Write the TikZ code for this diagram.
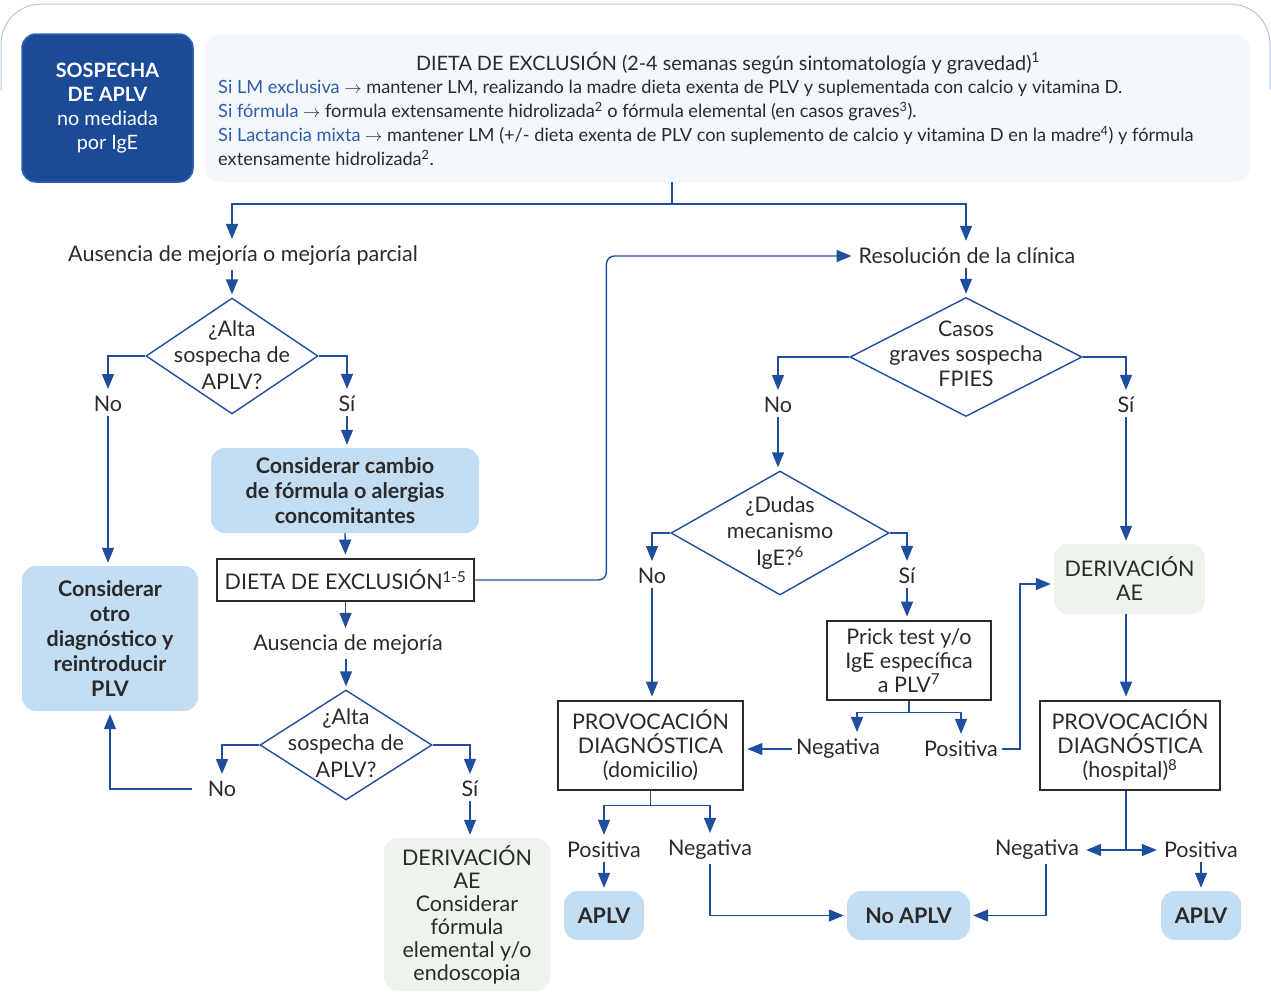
\documentclass[tikz,border=0pt]{standalone}
\usepackage{fontspec}
\setmainfont{Lato}
\usetikzlibrary{arrows.meta,shapes.geometric}
\definecolor{linea}{HTML}{1F4E9E}
\definecolor{azuloscuro}{HTML}{1B4A96}
\definecolor{azulborde}{HTML}{2C62B0}
\definecolor{azulclaro}{HTML}{C3DDF3}
\definecolor{verdeclaro}{HTML}{EEF4EC}
\definecolor{fondo}{HTML}{F4F8FC}
\definecolor{marco}{HTML}{AFC6E6}
\definecolor{texto}{HTML}{2A2A2A}
\definecolor{siazul}{HTML}{2E5DA8}
\tikzset{
  lin/.style={draw=linea, line width=1.4pt},
  arr/.style={lin, -{Triangle[length=15pt,width=12pt]}, shorten >=3pt},
  txt/.style={text=texto, font=\fontsize{21.5}{24}\selectfont, align=center, inner sep=4pt},
  rama/.style={diamond, draw=linea, line width=1.4pt, inner sep=0pt},
  ramatxt/.style={txt, font=\fontsize{21.5}{26.5}\selectfont},
  cajaazul/.style={txt, fill=azulclaro, rounded corners=14pt, font=\bfseries\fontsize{21.5}{25}\selectfont},
  cajaverde/.style={txt, fill=verdeclaro, rounded corners=14pt},
  cajanegra/.style={txt, draw=texto, line width=2.8pt},
}
\begin{document}
\begin{tikzpicture}[x=1pt, y=-1pt]
\useasboundingbox (0,0) rectangle (1271,996);
\draw[marco, line width=1pt, rounded corners=40pt] (1,90) -- (1,4) -- (1270,4) -- (1270,90);

% cabecera
\node[txt, fill=azuloscuro, draw=azulborde, line width=1.5pt, rounded corners=14pt, text=white,
  font=\fontsize{19.8}{24}\selectfont, minimum width=171pt, minimum height=148pt] (sospecha) at (107.5,108)
  {\textbf{SOSPECHA}\\\textbf{DE APLV}\\no mediada\\por IgE};
\node[fill=fondo, rounded corners=14pt, minimum width=1045pt, minimum height=147pt] (dieta) at (727.5,108.5) {};
\node[txt, font=\fontsize{19.8}{24}\selectfont] (dietatit) at (728,63)
  {DIETA DE EXCLUSIÓN (2-4 semanas según sintomatología y gravedad)\textsuperscript{1}};
\node[txt, align=left, anchor=north west, inner sep=0pt, font=\fontsize{18.2}{24}\selectfont] (dietatxt) at (218,80)
  {\textcolor{siazul}{Si LM exclusiva} $\rightarrow$ mantener LM, realizando la madre dieta exenta de PLV y suplementada con calcio y vitamina D.\\
   \textcolor{siazul}{Si fórmula} $\rightarrow$ formula extensamente hidrolizada\textsuperscript{2} o fórmula elemental (en casos graves\textsuperscript{3}).\\
   \textcolor{siazul}{Si Lactancia mixta} $\rightarrow$ mantener LM (+/- dieta exenta de PLV con suplemento de calcio y vitamina D en la madre\textsuperscript{4}) y fórmula\\
   extensamente hidrolizada\textsuperscript{2}.};
\coordinate (bifurca) at (672,204);

% rama izquierda
\node[txt] (ausencia1) at (243,256) {Ausencia de mejoría o mejoría parcial};
\node[rama, minimum width=172pt, minimum height=116pt] (d1) at (232,356) {};
\node[ramatxt] (d1txt) at (232,355) {¿Alta\\sospecha de\\APLV?};
\node[txt] (no1) at (108,404) {No};
\node[txt] (si1) at (347,404) {Sí};
\node[cajaazul, minimum width=176pt, minimum height=145pt] (otro) at (110,638.5)
  {Considerar\\otro\\diagnóstico y\\reintroducir\\PLV};
\node[cajaazul, minimum width=268pt, minimum height=85pt] (cambio) at (345,490.5)
  {Considerar cambio\\de fórmula o alergias\\concomitantes};
\node[cajanegra, minimum width=257pt, minimum height=42pt] (excl1) at (345.5,580)
  {DIETA DE EXCLUSIÓN\textsuperscript{1-5}};
\node[txt] (ausencia2) at (348,645) {Ausencia de mejoría};
\node[rama, minimum width=172pt, minimum height=110pt] (d2) at (346,745) {};
\node[ramatxt] (d2txt) at (346,743) {¿Alta\\sospecha de\\APLV?};
\node[txt] (no2) at (222,789) {No};
\node[txt] (si2) at (470,789) {Sí};
\node[cajaverde, minimum width=166pt, minimum height=153pt, font=\fontsize{21.5}{23}\selectfont] (deriv1) at (467,914.5)
  {DERIVACIÓN\\AE\\Considerar\\fórmula\\elemental y/o\\endoscopia};

% rama derecha
\node[txt] (resol) at (967,256) {Resolución de la clínica};
\node[rama, minimum width=232pt, minimum height=119pt] (d3) at (966,357) {};
\node[ramatxt, font=\fontsize{21.5}{25}\selectfont] (d3txt) at (966,354) {Casos\\graves sospecha\\FPIES};
\node[txt] (no3) at (778,405) {No};
\node[txt] (si3) at (1126,405) {Sí};
\node[rama, minimum width=218pt, minimum height=124pt] (d4) at (780,533) {};
\node[ramatxt] (d4txt) at (780,533) {¿Dudas\\mecanismo\\IgE?\textsuperscript{6}};
\node[txt] (no4) at (652,576) {No};
\node[txt] (si4) at (907,576) {Sí};
\node[cajanegra, minimum width=164pt, minimum height=79pt] (prick) at (909,660.5)
  {Prick test y/o\\IgE específica\\a PLV\textsuperscript{7}};
\node[txt] (neg1) at (838,749) {Negativa};
\node[txt] (pos1) at (961,749) {Positiva};
\node[cajanegra, minimum width=185pt, minimum height=89pt] (domi) at (650.5,745.5)
  {PROVOCACIÓN\\DIAGNÓSTICA\\(domicilio)};
\node[cajaverde, minimum width=151pt, minimum height=70pt] (deriv2) at (1129.5,579) {DERIVACIÓN\\AE};
\node[cajanegra, minimum width=180pt, minimum height=89pt] (hosp) at (1130,745.5)
  {PROVOCACIÓN\\DIAGNÓSTICA\\(hospital)\textsuperscript{8}};
\node[txt] (pos2) at (604,850) {Positiva};
\node[txt] (neg2) at (710,850) {Negativa};
\node[txt] (neg3) at (1037,850) {Negativa};
\node[txt] (pos3) at (1201,850) {Positiva};
\node[cajaazul, minimum width=80pt, minimum height=49pt] (aplv1) at (604,915.5) {APLV};
\node[cajaazul, minimum width=123pt, minimum height=49pt] (noaplv) at (908.5,915.5) {No APLV};
\node[cajaazul, minimum width=80pt, minimum height=49pt] (aplv2) at (1201,915.5) {APLV};

% conectores
\draw[lin] (dieta.south -| bifurca) -- (bifurca);
\draw[arr] (bifurca) -| (ausencia1.north -| d1);
\draw[arr] (bifurca) -| (resol.north -| d3);
\draw[arr] (ausencia1.south -| d1) -- (d1.north);
\draw[arr] (d1.west) -| (no1.north);
\draw[arr] (d1.east) -| (si1.north);
\draw[arr] (no1.south) -- (otro.north -| no1);
\draw[arr] (si1.south) -- (cambio.north -| si1);
\draw[arr] (cambio.south) -- (excl1.north);
\draw[arr, rounded corners=8pt] (excl1.east) -- ++(131,0) |- (resol.west);
\draw[arr] (excl1.south) -- (ausencia2.north -| excl1);
\draw[arr] (ausencia2.south -| d2) -- (d2.north);
\draw[arr] (d2.west) -| (no2.north);
\draw[arr] (d2.east) -| (si2.north);
\draw[arr] ([xshift=-12pt]no2.west) -| (otro.south);
\draw[arr] (si2.south) -- (deriv1.north -| si2);

\draw[arr] (resol.south -| d3) -- (d3.north);
\draw[arr] (d3.west) -| (no3.north);
\draw[arr] (d3.east) -| (si3.north);
\draw[arr] (no3.south) -- (d4.north -| no3);
\draw[arr] (d4.west) -| (no4.north);
\draw[arr] (d4.east) -| (si4.north);
\draw[arr] (no4.south) -- (domi.north -| no4);
\draw[arr] (si4.south) -- (prick.north -| si4);
\draw[lin] (prick.south) -- ++(0,11) coordinate (pk);
\draw[arr] (pk) -| ([xshift=19pt]neg1.north);
\draw[arr] (pk) -| (pos1.north);
\draw[arr] (neg1.west) -- (domi.east |- neg1);
\draw[arr] (pos1.east) -- ++(18,0) |- ([yshift=-5pt]deriv2.west);
\draw[arr] (si3.south) -- (deriv2.north -| si3);
\draw[arr] (deriv2.south -| si3) -- (hosp.north -| si3);
\draw[lin] (domi.south) -- ++(0,14) coordinate (dm);
\draw[arr] (dm) -| (pos2.north);
\draw[arr] (dm) -| (neg2.north);
\draw[arr] (pos2.south) -- (aplv1.north);
\draw[arr] (neg2.south) |- (noaplv.west);
\draw[lin] (hosp.south -| si3) -- (neg3 -| si3) coordinate (hp);
\draw[arr] (hp) -- (neg3.east);
\draw[arr] (hp) -- (pos3.west);
\draw[arr] (pos3.south) -- (aplv2.north);
\draw[arr] ([xshift=9pt]neg3.south) |- (noaplv.east);
\end{tikzpicture}
\end{document}
